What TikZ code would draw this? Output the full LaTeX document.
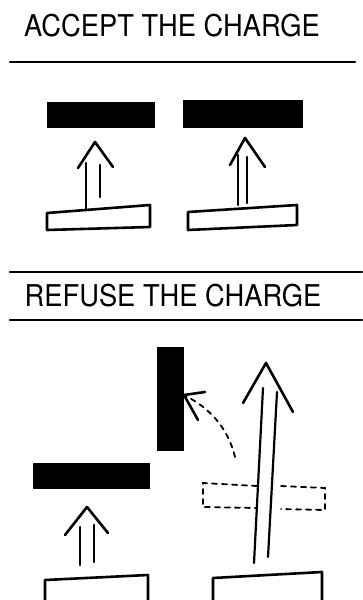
\documentclass[tikz,border=0pt]{standalone}
\usepackage{fontspec}
\setsansfont{TeX Gyre Heros}
\begin{document}
\begin{tikzpicture}[x=1pt,y=-1pt,
  pen/.style={line width=2.6pt,line cap=round,line join=round},
  thinpen/.style={line width=2.2pt,line cap=round,line join=round},
  ghost/.style={line width=1.8pt,dash pattern=on 5pt off 5pt,line cap=round},
  blackbar/.style={draw=black,fill=black,line width=1pt,inner sep=0pt,minimum width=#1},
  title/.style={font=\sffamily\fontsize{30}{32}\selectfont,inner sep=0pt}]
\useasboundingbox (0,0) rectangle (362,600);
% ---------- ACCEPT ----------
\node[title] (t1) at (172,26) {\scalebox{0.91}[1]{ACCEPT THE CHARGE}};
\draw[pen] (10,62) -- (355,62);
\node[blackbar=107pt,minimum height=25pt] (b1) at (100.5,114.5) {};
\node[blackbar=119pt,minimum height=27pt] (b2) at (242.5,114) {};
% arrow 1
\coordinate (a1) at (95,142);
\draw[pen] (78,168) -- (a1) -- (113,167);
\draw[pen] (86,163) -- (86,209);
\draw[pen] (100,165) -- (100,197);
\draw[pen] (47,213) -- (150,205) -- (150,227) -- (47,230) -- cycle;
% arrow 2
\coordinate (a2) at (245,138);
\draw[pen] (230,165) -- (a2) -- (265,167);
\draw[pen] (238,155) -- (238,205);
\draw[pen] (247,157) -- (247,203);
\draw[pen] (188,212) -- (297,205) -- (297,225) -- (188,230) -- cycle;
% ---------- REFUSE ----------
\draw[pen] (10,272) -- (362,272);
\node[title] (t2) at (173,296) {\scalebox{0.91}[1]{REFUSE THE CHARGE}};
\draw[pen] (10,320) -- (362,320);
% tipped-up bar
\node[blackbar=26pt,minimum height=103pt] (b4) at (170,398.5) {};
% dashed swing arrow
\coordinate (ct) at (184,395);
\draw[ghost] (235,457) .. controls (228,428) and (210,408) .. (ct);
\draw[pen] (205,392) -- (ct) -- (198,420);
% left bar
\node[blackbar=116pt,minimum height=25pt] (b3) at (91,475.5) {};
% small arrow
\coordinate (a3) at (87,507);
\draw[pen] (65,535) -- (a3) -- (108,533);
\draw[pen] (80,527) -- (80,565);
\draw[pen] (94,525) -- (94,562);
\draw[pen] (45,600) -- (45,580) -- (148,575) -- (148,600);
% big arrow
\coordinate (a4) at (266,363);
\draw[pen] (243,403) -- (a4) -- (293,412);
\draw[thinpen] (263,388) -- (254,563);
\draw[thinpen] (277,392) -- (268,557);
% ghost bar
\draw[ghost] (257,486) -- (203,483) -- (203,507) -- (257,508);
\draw[ghost] (281,486) -- (325,488) -- (325,510) -- (281,509);
\draw[pen] (213,600) -- (213,578) -- (322,572) -- (322,600);
\end{tikzpicture}
\end{document}
